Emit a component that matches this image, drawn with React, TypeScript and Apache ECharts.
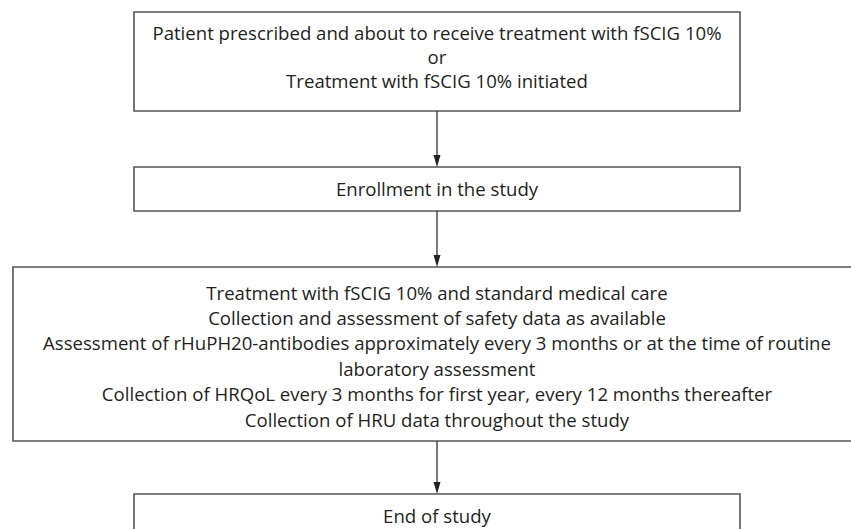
import React, { useEffect, useRef } from "react";
import * as echarts from "echarts";

const box1Lines = [
  "Patient prescribed and about to receive treatment with fSCIG 10%",
  "or",
  "Treatment with fSCIG 10% initiated",
];
const box2Lines = ["Enrollment in the study"];
const box3Lines = [
  "Treatment with fSCIG 10% and standard medical care",
  "Collection and assessment of safety data as available",
  "Assessment of rHuPH20-antibodies approximately every 3 months or at the time of routine",
  "laboratory assessment",
  "Collection of HRQoL every 3 months for first year, every 12 months thereafter",
  "Collection of HRU data throughout the study",
];
const box4Lines = ["End of study"];

const FONT = "'Open Sans', sans-serif";
const TEXT_COLOR = "#231f20";
const LINE_COLOR = "#555555";

export default function App() {
  const ref = useRef<HTMLDivElement>(null);
  useEffect(() => {
    if (!ref.current) return;
    const chart = echarts.init(ref.current, null, { renderer: "svg" });
    const cx = 437;
    const boxes = [
      { x: 134, y: 12, w: 606, h: 99, lines: box1Lines, firstY: 32.5, step: 24 },
      { x: 134, y: 167, w: 606, h: 44, lines: box2Lines, firstY: 188.5, step: 25 },
      { x: 13, y: 267, w: 848, h: 174, lines: box3Lines, firstY: 292, step: 25.4 },
      { x: 134, y: 494, w: 606, h: 60, lines: box4Lines, firstY: 515, step: 25 },
    ];
    const elements: any[] = [];
    boxes.forEach((b) => {
      elements.push({
        type: "rect",
        shape: { x: b.x, y: b.y, width: b.w, height: b.h },
        style: { fill: "#fff", stroke: LINE_COLOR, lineWidth: 1.6 },
      });
      b.lines.forEach((t, i) => {
        elements.push({
          type: "text",
          x: cx,
          y: b.firstY + i * b.step,
          style: {
            text: t,
            font: `18.6px ${FONT}`,
            fill: TEXT_COLOR,
            textAlign: "center",
            textVerticalAlign: "middle",
          },
        });
      });
    });
    for (let i = 0; i < boxes.length - 1; i++) {
      const y1 = boxes[i].y + boxes[i].h;
      const y2 = boxes[i + 1].y;
      elements.push({
        type: "line",
        shape: { x1: cx, y1, x2: cx, y2: y2 - 10 },
        style: { stroke: "#333", lineWidth: 1.3 },
      });
      elements.push({
        type: "polygon",
        shape: {
          points: [
            [cx - 3.5, y2 - 12],
            [cx + 3.5, y2 - 12],
            [cx, y2],
          ],
        },
        style: { fill: "#222" },
      });
    }
    chart.setOption({
      animation: false,
      backgroundColor: "#fff",
      graphic: { elements },
    });
    return () => chart.dispose();
  }, []);
  return <div ref={ref} style={{ width: 851, height: 529, position: "absolute", left: 0, top: 0 }} />;
}
